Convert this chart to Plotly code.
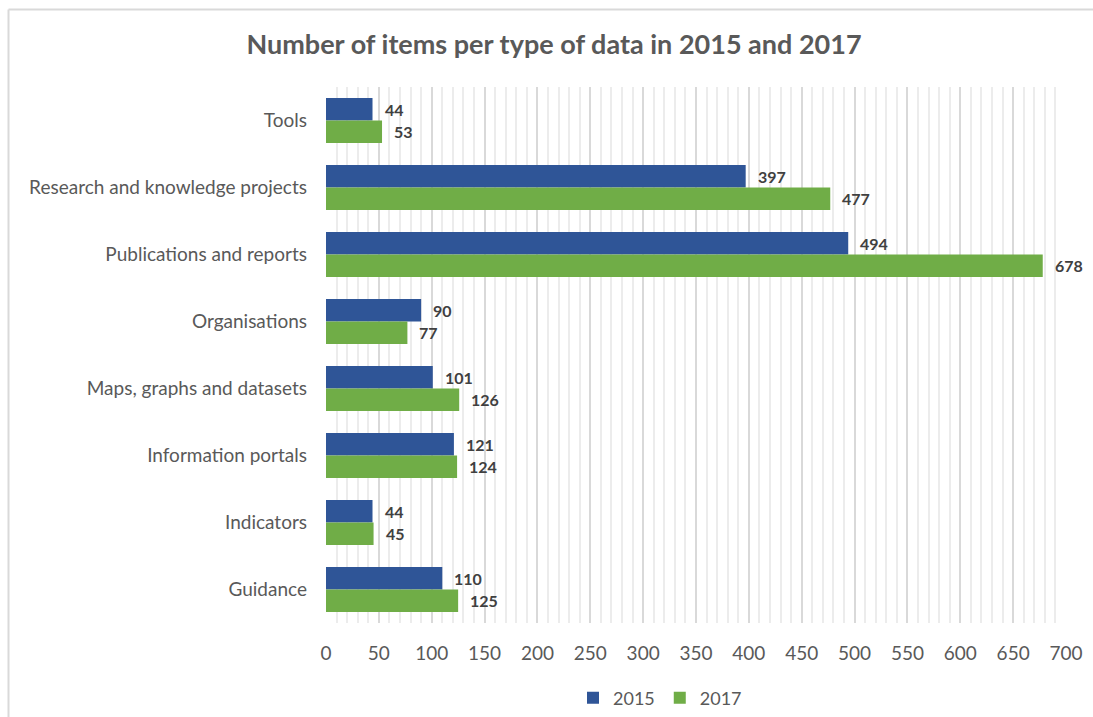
import plotly.graph_objects as go

# Data types, listed top to bottom
categories = [
    "Tools",
    "Research and knowledge projects",
    "Publications and reports",
    "Organisations",
    "Maps, graphs and datasets",
    "Information portals",
    "Indicators",
    "Guidance",
]
items_2015 = [44, 397, 494, 90, 101, 121, 44, 110]
items_2017 = [53, 477, 678, 77, 126, 124, 45, 125]

x_ticks = list(range(0, 701, 50))

BLUE = "#2F5597"
GREEN = "#70AD47"
TEXT = "#595959"
LABEL = "#404040"
FONT = "Lato, Open Sans, sans-serif"

W, H = 1093, 717
L, R, T, B = 326, 27, 87, 94
PW, PH = W - L - R, H - T - B

fig = go.Figure()
fig.add_trace(go.Bar(y=categories, x=items_2015, name="2015", orientation="h",
                     marker=dict(color=BLUE, line=dict(width=0))))
fig.add_trace(go.Bar(y=categories, x=items_2017, name="2017", orientation="h",
                     marker=dict(color=GREEN, line=dict(width=0))))

# value labels to the right of each bar
annotations = []
for cat, v15, v17 in zip(categories, items_2015, items_2017):
    for val, shift in ((v15, 11), (v17, -11)):
        annotations.append(dict(
            x=val, y=cat, xref="x", yref="y", text=str(val), showarrow=False,
            xanchor="left", yanchor="middle", xshift=10, yshift=shift,
            font=dict(family=FONT, size=16, color=LABEL, weight="bold"),
        ))

# outer chart border (left and top edges)
bx = (8.5 - L) / PW
by = (H - B - 9.5) / PH
shapes = [
    dict(type="line", xref="paper", yref="paper", x0=bx, x1=1.2, y0=by, y1=by,
         line=dict(color="#d9d9d9", width=2)),
    dict(type="line", xref="paper", yref="paper", x0=bx, x1=bx, y0=by, y1=-0.3,
         line=dict(color="#d9d9d9", width=2)),
]

fig.update_layout(
    width=W, height=H,
    margin=dict(l=L, r=R, t=T, b=B, autoexpand=False),
    paper_bgcolor="white", plot_bgcolor="white",
    barmode="group", bargap=0.33, bargroupgap=0,
    font=dict(family=FONT, color=TEXT),
    title=dict(text="<b>Number of items per type of data in 2015 and 2017</b>",
               x=554 / W, xref="container", xanchor="center",
               y=1 - 45 / H, yref="container", yanchor="middle",
               font=dict(family=FONT, size=27, color=TEXT)),
    legend=dict(orientation="h", x=(660 - L) / PW, xanchor="center",
                y=-(698 - (H - B)) / PH, yanchor="middle",
                font=dict(family=FONT, size=18, color=TEXT),
                itemwidth=30),
    xaxis=dict(range=[0, 700], tickvals=x_ticks, showgrid=True, automargin=False,
               gridcolor="#d9d9d9", gridwidth=2, zeroline=False, showline=False,
               tickfont=dict(family=FONT, size=19, color=TEXT),
               ticklabelstandoff=17,
               minor=dict(dtick=10, showgrid=True, gridcolor="#ececec", gridwidth=1.5)),
    yaxis=dict(autorange="reversed", showgrid=False, zeroline=False, showline=False,
               automargin=False,
               tickfont=dict(family=FONT, size=19, color=TEXT),
               ticklabelstandoff=18),
    annotations=annotations,
    shapes=shapes,
    showlegend=True,
)

fig.write_html("out.html")
